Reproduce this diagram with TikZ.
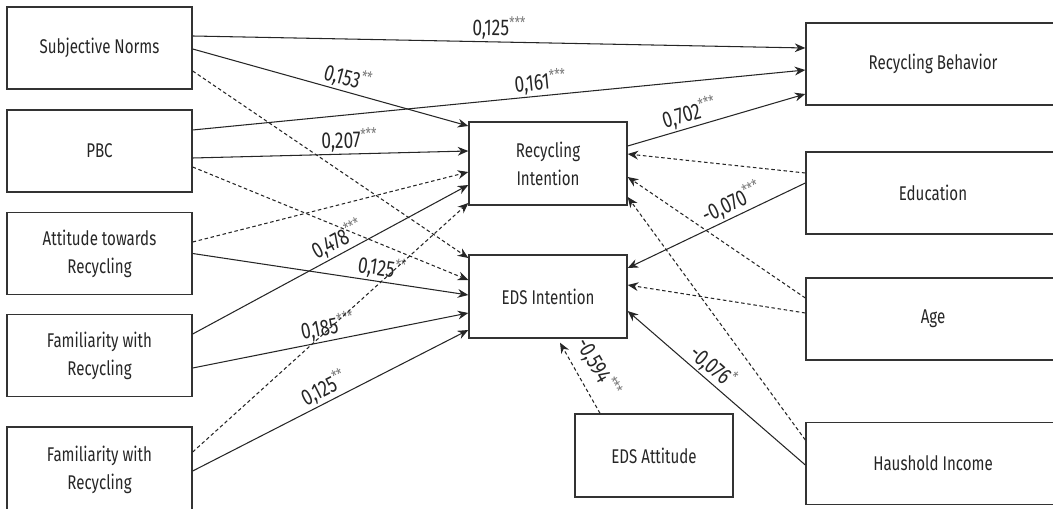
\documentclass[tikz,border=0pt]{standalone}
\usepackage{fontspec}
\setmainfont{Fira Sans}[FakeStretch=0.76]
\usetikzlibrary{arrows.meta,positioning,calc}
\definecolor{boxcol}{HTML}{333333}
\definecolor{linecol}{HTML}{262626}
\definecolor{starcol}{HTML}{7A7A7A}
\newcommand{\pathcoef}[2]{#1\textsuperscript{\textcolor{starcol}{#2}}}

\begin{document}
\begin{tikzpicture}[
    x=0.02cm, y=0.02cm,
    box/.style={rectangle, draw=boxcol, line width=0.8pt, minimum width=3.7cm, minimum height=1.64cm, inner sep=0pt, align=center, text=linecol, font=\fontsize{11.3}{16}\selectfont},
    widebox/.style={box, minimum width=5.08cm},
    midbox/.style={box, minimum width=3.16cm, minimum height=1.66cm},
    arrow/.style={-{Stealth[length=6pt,width=5pt]}, draw=linecol, line width=0.6pt},
    dasharrow/.style={arrow, dash pattern=on 2pt off 1.5pt},
    coeflbl/.style={sloped, above, inner sep=1pt, text=linecol, font=\fontsize{13}{14}\selectfont}
]
    \useasboundingbox (0,0) rectangle (1053,-509);
    \clip (0,0) rectangle (1053,-509);

    % Predictors
    \node[box] (subnorms) at (99.5,-48) {Subjective Norms};
    \node[box] (pbc) at (99.5,-151) {PBC};
    \node[box] (attitude) at (99.5,-253.5) {Attitude towards\\Recycling};
    \node[box] (familiar) at (99.5,-355.5) {Familiarity with\\Recycling};
    \node[box, minimum height=1.72cm] (familiarb) at (99.5,-470) {Familiarity with\\Recycling};

    % Intentions
    \node[midbox] (recint) at (548,-163.5) {Recycling\\Intention};
    \node[midbox] (edsint) at (548,-296.5) {EDS Intention};
    \node[midbox] (edsatt) at (654,-455.5) {EDS Attitude};

    % Outcome and controls
    \node[widebox] (recbeh) at (933,-64) {Recycling Behavior};
    \node[widebox] (educ) at (933,-193) {Education};
    \node[widebox] (age) at (933,-319) {Age};
    \node[widebox] (income) at (933,-463.5) {Haushold Income};

    % Arrows from the predictors
    \draw[arrow] ($(subnorms.east)+(0,12)$) -- node[coeflbl, pos=0.5] {\pathcoef{0,125}{***}} ($(recbeh.west)+(0,16)$);
    \draw[arrow] ($(subnorms.east)+(0,-1)$) -- node[coeflbl, pos=0.55] {\pathcoef{0,153}{**}} ($(recint.west)+(0,37.5)$);
    \draw[dasharrow] ($(subnorms.east)+(0,-23)$) -- ($(edsint.west)+(0,38.5)$);
    \draw[arrow] ($(pbc.east)+(0,21)$) -- node[coeflbl, pos=0.57] {\pathcoef{0,161}{***}} ($(recbeh.west)+(0,-6)$);
    \draw[arrow] ($(pbc.east)+(0,-7)$) -- node[coeflbl, pos=0.57] {\pathcoef{0,207}{***}} ($(recint.west)+(0,12.5)$);
    \draw[dasharrow] ($(pbc.east)+(0,-16)$) -- ($(edsint.west)+(0,16.5)$);
    \draw[dasharrow] ($(attitude.east)+(0,11.5)$) -- ($(recint.west)+(0,-8.5)$);
    \draw[arrow] (attitude.east) -- node[coeflbl, pos=0.68] {\pathcoef{0,125}{**}} ($(edsint.west)+(0,1.5)$);
    \draw[arrow] ($(familiar.east)+(0,21.5)$) -- node[coeflbl, pos=0.55] {\pathcoef{0,478}{***}} ($(recint.west)+(0,-21.5)$);
    \draw[arrow] ($(familiar.east)+(0,-12.5)$) -- node[coeflbl, pos=0.5] {\pathcoef{0,185}{***}} ($(edsint.west)+(0,-16.5)$);
    \draw[dasharrow] ($(familiarb.east)+(0,18)$) -- ($(recint.west)+(0,-39.5)$);
    \draw[arrow] ($(familiarb.east)+(0,-1)$) -- node[coeflbl, pos=0.5] {\pathcoef{0,125}{**}} ($(edsint.west)+(0,-33.5)$);

    % Intention to behavior
    \draw[arrow] ($(recint.east)+(0,17.5)$) -- node[coeflbl, pos=0.37] {\pathcoef{0,702}{***}} ($(recbeh.west)+(0,-30)$);

    % Arrows from the controls
    \draw[dasharrow] ($(educ.west)+(0,20)$) -- ($(recint.east)+(0,9.5)$);
    \draw[arrow] ($(educ.west)+(0,10)$) -- node[coeflbl, pos=0.38] {\pathcoef{-0,070}{***}} ($(edsint.east)+(0,28.5)$);
    \draw[dasharrow] ($(age.west)+(0,21)$) -- ($(recint.east)+(0,-13.5)$);
    \draw[dasharrow] ($(age.west)+(0,6)$) -- ($(edsint.east)+(0,11.5)$);
    \draw[dasharrow] ($(income.west)+(0,23.5)$) -- ($(recint.east)+(0,-33.5)$);
    \draw[arrow] ($(income.west)+(0,-1.5)$) -- node[coeflbl, pos=0.57] {\pathcoef{-0,076}{*}} ($(edsint.east)+(0,-14.5)$);
    \draw[dasharrow] ($(edsatt.north)+(-54,0)$) -- node[coeflbl, above=4pt, pos=0.5] {\pathcoef{-0,594}{***}} ($(edsint.south)+(12,-4)$);
\end{tikzpicture}
\end{document}
